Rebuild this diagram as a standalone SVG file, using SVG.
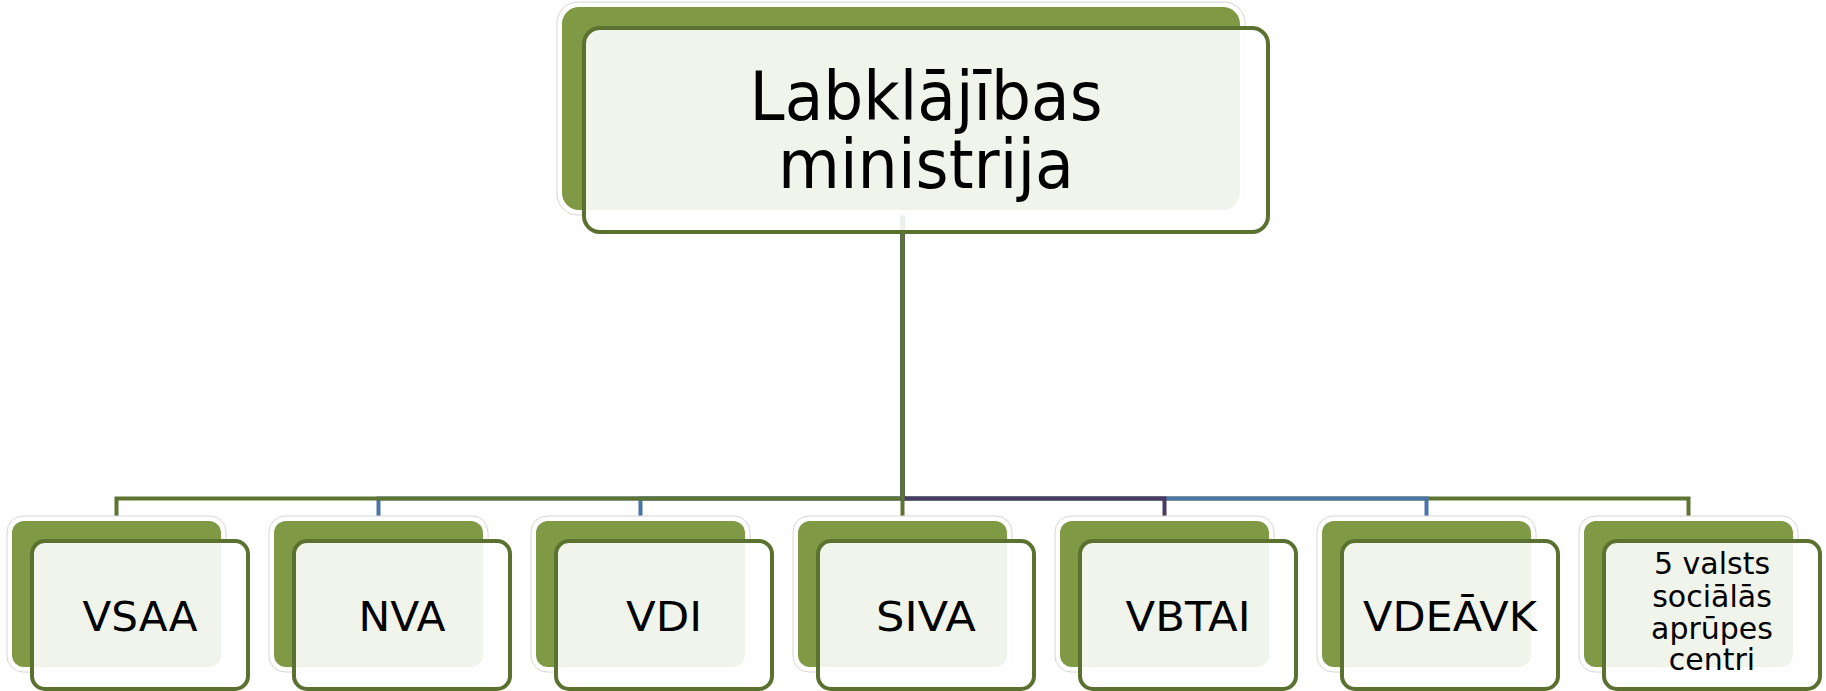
<svg xmlns="http://www.w3.org/2000/svg" width="1826" height="691" viewBox="0 0 1826 691">
<style>
.halo{fill:#ffffff;stroke:#d6d6d6;stroke-width:1}
.back{fill:#7f9944}
.front{fill:#ffffff;fill-opacity:0.89;stroke:#5b7130;stroke-width:4}
.lbl{font-family:"DejaVu Sans","Liberation Sans",sans-serif;font-size:41px;fill:#000;text-anchor:middle}
.lbl2{font-family:"DejaVu Sans","Liberation Sans",sans-serif;font-size:30px;fill:#000;text-anchor:middle}
.top{font-family:"DejaVu Sans","Liberation Sans",sans-serif;font-size:68px;fill:#000;text-anchor:middle}
.cg{fill:none;stroke:#5d7433;stroke-width:4}
.cb{fill:none;stroke:#4a74a6;stroke-width:4}
.cp{fill:none;stroke:#4b3a62;stroke-width:4}
</style>
<rect width="1826" height="691" fill="#ffffff"/>
<g id="connectors">
<path class="cb" d="M902.5 210 V498.5 H378.5 V516"/>
<path class="cb" d="M902.5 210 V498.5 H640.5 V516"/>
<path class="cg" d="M902.5 210 V498.5 H116.5 V516"/>
<path class="cg" d="M902.5 210 V498.5 H1688.5 V516"/>
<path class="cb" d="M902.5 210 V498.5 H1426.5 V516"/>
<path class="cp" d="M902.5 210 V498.5 H1164.5 V516"/>
<path class="cg" d="M902.5 210 V516"/>
</g>
<g id="node-lm">
<rect class="halo" x="557" y="2" width="688" height="213" rx="21"/>
<rect class="back" x="562" y="7" width="678" height="203" rx="17"/>
<rect class="front" x="584" y="28" width="684" height="204" rx="16"/>
<text class="top" x="926" y="120" textLength="353" lengthAdjust="spacingAndGlyphs">Labklājības</text>
<text class="top" x="926" y="188" textLength="296" lengthAdjust="spacingAndGlyphs">ministrija</text>
</g>
<g id="node-vsaa">
<rect class="halo" x="7" y="516" width="219" height="156" rx="16"/>
<rect class="back" x="12" y="521" width="209" height="146" rx="12"/>
<rect class="front" x="32" y="541" width="216" height="148" rx="13"/>
<text class="lbl" x="140" y="631" textLength="115" lengthAdjust="spacingAndGlyphs">VSAA</text>
</g>
<g id="node-nva">
<rect class="halo" x="269" y="516" width="219" height="156" rx="16"/>
<rect class="back" x="274" y="521" width="209" height="146" rx="12"/>
<rect class="front" x="294" y="541" width="216" height="148" rx="13"/>
<text class="lbl" x="402" y="631" textLength="87" lengthAdjust="spacingAndGlyphs">NVA</text>
</g>
<g id="node-vdi">
<rect class="halo" x="531" y="516" width="219" height="156" rx="16"/>
<rect class="back" x="536" y="521" width="209" height="146" rx="12"/>
<rect class="front" x="556" y="541" width="216" height="148" rx="13"/>
<text class="lbl" x="664" y="631" textLength="76" lengthAdjust="spacingAndGlyphs">VDI</text>
</g>
<g id="node-siva">
<rect class="halo" x="793" y="516" width="219" height="156" rx="16"/>
<rect class="back" x="798" y="521" width="209" height="146" rx="12"/>
<rect class="front" x="818" y="541" width="216" height="148" rx="13"/>
<text class="lbl" x="926" y="631" textLength="100" lengthAdjust="spacingAndGlyphs">SIVA</text>
</g>
<g id="node-vbtai">
<rect class="halo" x="1055" y="516" width="219" height="156" rx="16"/>
<rect class="back" x="1060" y="521" width="209" height="146" rx="12"/>
<rect class="front" x="1080" y="541" width="216" height="148" rx="13"/>
<text class="lbl" x="1188" y="631" textLength="125" lengthAdjust="spacingAndGlyphs">VBTAI</text>
</g>
<g id="node-vdeavk">
<rect class="halo" x="1317" y="516" width="219" height="156" rx="16"/>
<rect class="back" x="1322" y="521" width="209" height="146" rx="12"/>
<rect class="front" x="1342" y="541" width="216" height="148" rx="13"/>
<text class="lbl" x="1450" y="631" textLength="174" lengthAdjust="spacingAndGlyphs">VDEĀVK</text>
</g>
<g id="node-centri">
<rect class="halo" x="1579" y="516" width="219" height="156" rx="16"/>
<rect class="back" x="1584" y="521" width="209" height="146" rx="12"/>
<rect class="front" x="1604" y="541" width="216" height="148" rx="13"/>
<text class="lbl2" x="1712" y="574">5 valsts</text>
<text class="lbl2" x="1712" y="606.5">sociālās</text>
<text class="lbl2" x="1712" y="638.5">aprūpes</text>
<text class="lbl2" x="1712" y="670">centri</text>
</g>
</svg>
